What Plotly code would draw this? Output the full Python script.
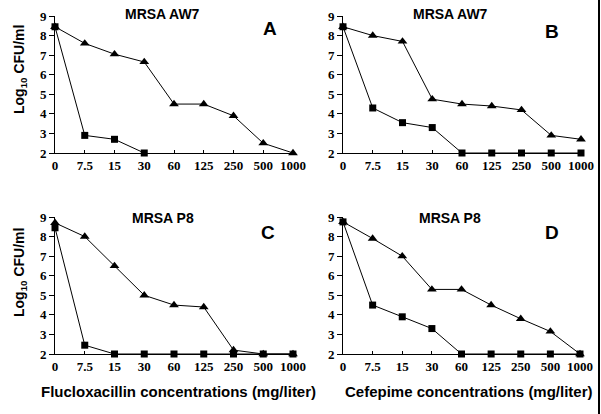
import plotly.graph_objects as go

W, H = 601, 414

conc_labels = ["0", "7.5", "15", "30", "60", "125", "250", "500", "1000"]

# Panel A: MRSA AW7, flucloxacillin
a_tri = [8.45, 7.6, 7.05, 6.65, 4.5, 4.5, 3.9, 2.5, 2.0]
a_sq = [8.45, 2.9, 2.7, 2.0]
# Panel B: MRSA AW7, cefepime
b_tri = [8.45, 8.0, 7.7, 4.75, 4.5, 4.4, 4.2, 2.9, 2.7]
b_sq = [8.45, 4.3, 3.55, 3.3, 2.0, 2.0, 2.0, 2.0, 2.0]
# Panel C: MRSA P8, flucloxacillin
c_tri = [8.7, 8.0, 6.5, 5.0, 4.5, 4.4, 2.2, 2.0, 2.0]
c_sq = [8.45, 2.45, 2.0, 2.0, 2.0, 2.0, 2.0, 2.0, 2.0]
# Panel D: MRSA P8, cefepime
d_tri = [8.75, 7.9, 7.0, 5.3, 5.3, 4.5, 3.8, 3.15, 2.0]
d_sq = [8.75, 4.5, 3.9, 3.3, 2.0, 2.0, 2.0, 2.0, 2.0]

panel_titles = ["MRSA AW7", "MRSA AW7", "MRSA P8", "MRSA P8"]
panel_letters = ["A", "B", "C", "D"]
y_ticks = [2, 3, 4, 5, 6, 7, 8, 9]
x_titles = ["Flucloxacillin concentrations (mg/liter)", "Cefepime concentrations (mg/liter)"]
y_title = "Log<sub>10</sub> CFU/ml"

SANS = "Liberation Sans"
SERIF = "Liberation Serif"

# pixel boxes: (x0, x1, ytop, ybottom)
boxes = [(55, 293, 16, 153), (343, 581, 16, 153), (55, 293, 217, 354), (343, 580, 217, 354)]

def px(x):
    return x / W

def py(y):
    return 1 - y / H

fig = go.Figure()
series = [(a_tri, a_sq), (b_tri, b_sq), (c_tri, c_sq), (d_tri, d_sq)]
xi = list(range(len(conc_labels)))
bold_ticks = ["<b>%s</b>" % t for t in conc_labels]
bold_yticks = ["<b>%d</b>" % t for t in y_ticks]

for i, ((tri, sq), (x0, x1, yt, yb)) in enumerate(zip(series, boxes)):
    n = i + 1
    xa = "x" if n == 1 else f"x{n}"
    ya = "y" if n == 1 else f"y{n}"
    fig.add_trace(go.Scatter(x=xi[:len(tri)], y=tri, mode="lines+markers", xaxis=xa, yaxis=ya,
                             line=dict(color="black", width=1),
                             marker=dict(symbol="triangle-up", size=8.5, color="black"),
                             cliponaxis=False, showlegend=False, hoverinfo="skip"))
    fig.add_trace(go.Scatter(x=xi[:len(sq)], y=sq, mode="lines+markers", xaxis=xa, yaxis=ya,
                             line=dict(color="black", width=1),
                             marker=dict(symbol="square", size=7, color="black"),
                             cliponaxis=False, showlegend=False, hoverinfo="skip"))
    xkey = "xaxis" if n == 1 else f"xaxis{n}"
    ykey = "yaxis" if n == 1 else f"yaxis{n}"
    fig.update_layout(**{
        xkey: dict(domain=[px(x0), px(x1)], anchor=ya, range=[0, 8], automargin=False,
                   tickmode="array", tickvals=xi, ticktext=bold_ticks,
                   showline=True, linecolor="black", linewidth=1, mirror=False,
                   ticks="inside", ticklen=3, tickcolor="black",
                   showgrid=False, zeroline=False,
                   tickfont=dict(family=SERIF, size=13, color="black")),
        ykey: dict(domain=[py(yb), py(yt)], anchor=xa, range=[2, 9], automargin=False,
                   tickmode="array", tickvals=y_ticks, ticktext=bold_yticks,
                   showline=True, linecolor="black", linewidth=1,
                   ticks="outside", ticklen=5, tickcolor="black",
                   showgrid=False, zeroline=False,
                   tickfont=dict(family=SERIF, size=13, color="black")),
    })

ann = []
title_pos = [(162, 14), (450, 14), (163, 218), (450, 218)]
letter_pos = [(270, 29), (552, 31), (268, 232), (552, 233)]
for t, (x, y) in zip(panel_titles, title_pos):
    ann.append(dict(text="<b>%s</b>" % t, x=px(x), y=py(y), xref="paper", yref="paper", showarrow=False,
                    xanchor="center", yanchor="middle",
                    font=dict(family=SANS, size=14, color="black")))
for t, (x, y) in zip(panel_letters, letter_pos):
    ann.append(dict(text="<b>%s</b>" % t, x=px(x), y=py(y), xref="paper", yref="paper", showarrow=False,
                    xanchor="center", yanchor="middle",
                    font=dict(family=SANS, size=19, color="black")))
for t, x in zip(x_titles, [178, 469]):
    ann.append(dict(text="<b>%s</b>" % t, x=px(x), y=py(391), xref="paper", yref="paper", showarrow=False,
                    xanchor="center", yanchor="middle",
                    font=dict(family=SANS, size=15, color="black")))
for y in [70, 273]:
    ann.append(dict(text="<b>%s</b>" % y_title, x=px(20), y=py(y), xref="paper", yref="paper", showarrow=False,
                    textangle=-90, xanchor="center", yanchor="middle",
                    font=dict(family=SANS, size=14, color="black")))

fig.update_layout(
    width=W, height=H, margin=dict(l=0, r=0, t=0, b=0, autoexpand=False),
    paper_bgcolor="white", plot_bgcolor="white",
    annotations=ann,
    hovermode=False,
    shapes=[dict(type="rect", xref="paper", yref="paper", x0=px(598), x1=px(600), y0=0, y1=1,
                 layer="above", fillcolor="black", line=dict(width=0))],
)

# remove the page's default body margin so the 601x414 figure fills the window exactly
fig.write_html("out.html", config={"displayModeBar": False, "staticPlot": True},
               post_script="document.body.style.margin='0';document.body.style.overflow='hidden';")
